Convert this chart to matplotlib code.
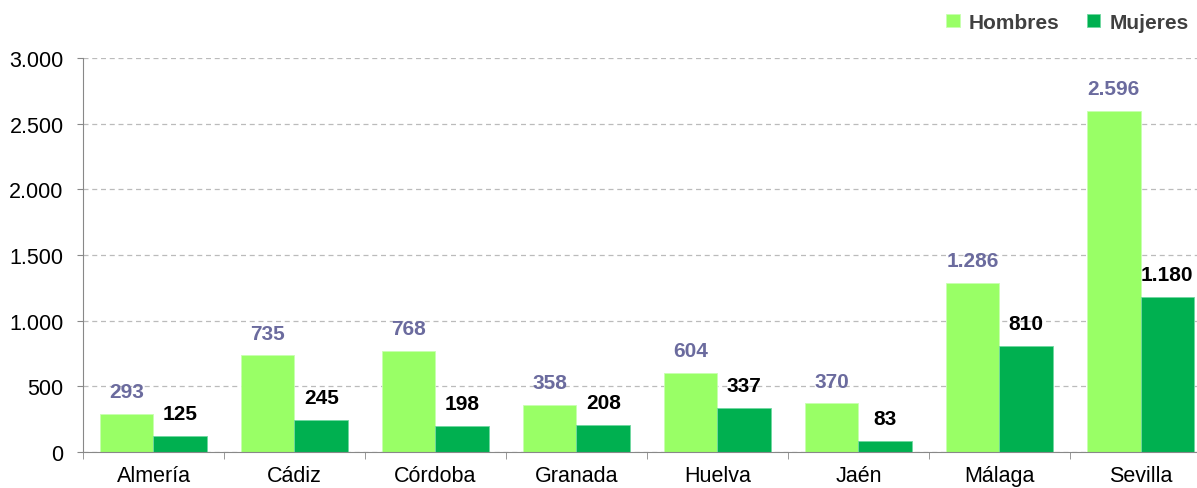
import matplotlib.pyplot as plt
import numpy as np
from matplotlib.ticker import FuncFormatter

provincias = ['Almería', 'Cádiz', 'Córdoba', 'Granada', 'Huelva', 'Jaén', 'Málaga', 'Sevilla']
hombres = [293, 735, 768, 358, 604, 370, 1286, 2596]
mujeres = [125, 245, 198, 208, 337, 83, 810, 1180]

plt.rcParams['font.family'] = ['Liberation Sans', 'DejaVu Sans']

def miles(v, pos=None):
    return f'{int(v):,}'.replace(',', '.')

fig = plt.figure(figsize=(11.97, 4.89), dpi=100)
# the plot area runs a little past the right edge of the image, as in the original
ax = fig.add_axes([0.0693, 0.0736, 0.9424, 0.8057])

x = np.arange(len(provincias))
w = 0.38
b1 = ax.bar(x - w / 2, hombres, w, color='#99FF66', edgecolor='#C8FFB0', linewidth=0.6, label='Hombres')
b2 = ax.bar(x + w / 2, mujeres, w, color='#00B050', edgecolor='#70D8A0', linewidth=0.6, label='Mujeres')

for rect, v in zip(b1, hombres):
    ax.annotate(miles(v), (rect.get_x() + rect.get_width() / 2, v),
                xytext=(0, 16), textcoords='offset points', ha='center', va='center',
                fontsize=15, fontweight='bold', color='#6B6B9E')
for rect, v in zip(b2, mujeres):
    ax.annotate(miles(v), (rect.get_x() + rect.get_width() / 2, v),
                xytext=(0, 16), textcoords='offset points', ha='center', va='center',
                fontsize=15, fontweight='bold', color='black')

ax.set_xlim(-0.5, len(provincias) - 0.5)
ax.set_ylim(0, 3000)
ax.set_yticks(np.arange(0, 3001, 500))
ax.yaxis.set_major_formatter(FuncFormatter(miles))
ax.yaxis.grid(True, linestyle=(0, (4, 3)), color='#BBBBBB', linewidth=0.9)
ax.set_axisbelow(True)

ax.set_xticks(x)
ax.set_xticklabels(provincias)
ax.set_xticks(np.arange(-0.5, len(provincias)), minor=True)
ax.tick_params(axis='x', which='major', length=0, labelsize=15.5, pad=9)
ax.tick_params(axis='x', which='minor', length=5, color='#888888')
ax.tick_params(axis='y', length=4, color='#888888', labelsize=15.5, pad=10)

for s in ['top', 'right']:
    ax.spines[s].set_visible(False)
ax.spines['left'].set_color('#888888')
ax.spines['bottom'].set_color('#888888')

leg = fig.legend(loc='upper right', bbox_to_anchor=(1.009, 1.01), ncol=2, frameon=False,
                 handlelength=0.65, handleheight=0.65, handletextpad=0.45, columnspacing=1.3,
                 prop={'weight': 'bold', 'size': 15})
for t in leg.get_texts():
    t.set_color('#404040')

fig.savefig('out.png', dpi=100)
